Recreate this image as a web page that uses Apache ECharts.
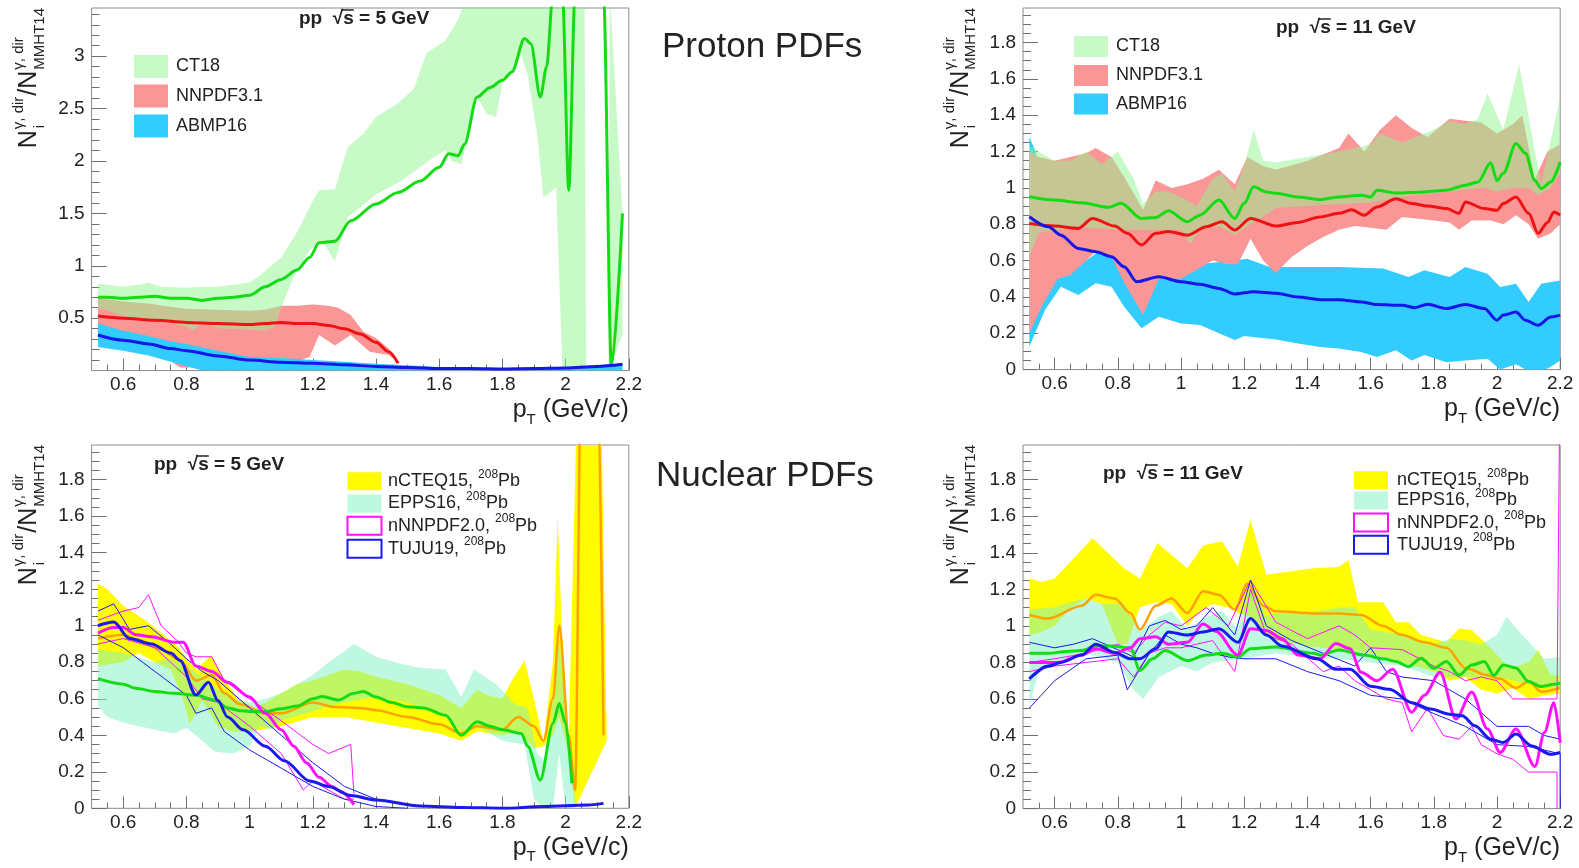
<!DOCTYPE html>
<html>
<head>
<meta charset="utf-8">
<script src="https://cdn.jsdelivr.net/npm/echarts@6/dist/echarts.min.js"></script>
<style>
  html, body { margin: 0; padding: 0; background: #fff; }
  #chart { width: 1579px; height: 868px; }
</style>
</head>
<body>
<div id="chart"></div>
<script>
// ---------------- axis ticks ----------------
const xMajor = [0.6, 0.8, 1, 1.2, 1.4, 1.6, 1.8, 2, 2.2];
const yMajorWide = [0.5, 1, 1.5, 2, 2.5, 3];
const yMajorRatio = [0, 0.2, 0.4, 0.6, 0.8, 1, 1.2, 1.4, 1.6, 1.8];

// ---------------- proton PDFs, sqrt(s) = 5 GeV ----------------
const ct18Mid5 = [[0.52,0.70],[0.55,0.70],[0.6,0.69],[0.65,0.70],[0.7,0.71],[0.75,0.69],[0.8,0.69],[0.85,0.67],[0.9,0.69],[0.95,0.70],[1.0,0.72],[1.05,0.80],[1.1,0.87],[1.15,0.96],[1.19,1.08],[1.22,1.22],[1.27,1.235],[1.32,1.43],[1.4,1.59],[1.47,1.70],[1.54,1.81],[1.6,1.94],[1.63,2.07],[1.66,2.05],[1.68,2.16],[1.72,2.61],[1.76,2.70],[1.8,2.77],[1.83,2.85],[1.87,3.17],[1.89,3.12],[1.92,2.61],[1.94,2.90],[1.96,3.6],[1.99,3.6],[2.01,1.72],[2.03,3.6],[2.12,3.6],[2.145,0.04],[2.18,1.50]];
const ct18Hi5 = [[0.52,0.83],[0.55,0.82],[0.6,0.80],[0.65,0.82],[0.68,0.84],[0.72,0.80],[0.8,0.79],[0.85,0.80],[0.9,0.80],[0.95,0.82],[1.0,0.84],[1.03,0.90],[1.06,0.98],[1.1,1.08],[1.15,1.32],[1.2,1.62],[1.22,1.72],[1.27,1.73],[1.31,2.13],[1.36,2.26],[1.4,2.42],[1.47,2.55],[1.52,2.69],[1.56,3.03],[1.62,3.15],[1.66,3.35],[1.69,3.6],[2.06,3.6],[2.065,0.02],[2.135,0.02],[2.14,3.6],[2.18,1.5]];
const ct18Lo5 = [[0.52,0.60],[0.55,0.57],[0.6,0.52],[0.65,0.49],[0.7,0.47],[0.75,0.45],[0.8,0.42],[0.82,0.38],[0.85,0.45],[0.88,0.42],[0.91,0.40],[0.95,0.40],[1.0,0.39],[1.05,0.38],[1.08,0.42],[1.1,0.60],[1.14,0.90],[1.19,1.15],[1.23,1.24],[1.27,1.04],[1.31,1.46],[1.4,1.68],[1.48,1.81],[1.58,2.03],[1.62,2.10],[1.64,2.00],[1.67,1.97],[1.70,2.35],[1.72,2.61],[1.75,2.45],[1.78,2.42],[1.80,2.74],[1.83,2.83],[1.86,3.01],[1.88,2.82],[1.91,2.26],[1.93,1.65],[1.97,1.75],[1.99,0.0],[2.135,0.0],[2.14,0.02],[2.18,0.35]];
const nnpdfMid5 = [[0.52,0.52],[0.6,0.50],[0.7,0.48],[0.8,0.46],[0.9,0.45],[1.0,0.44],[1.05,0.45],[1.1,0.46],[1.15,0.45],[1.2,0.45],[1.25,0.43],[1.3,0.40],[1.35,0.35],[1.4,0.27],[1.44,0.18],[1.47,0.07]];
const nnpdfHi5 = [[0.52,0.70],[0.55,0.68],[0.6,0.66],[0.68,0.64],[0.75,0.61],[0.8,0.59],[0.9,0.58],[1.0,0.57],[1.05,0.58],[1.1,0.62],[1.15,0.62],[1.2,0.63],[1.25,0.62],[1.28,0.60],[1.32,0.53],[1.36,0.37],[1.4,0.31],[1.44,0.21],[1.47,0.08]];
const nnpdfLo5 = [[0.52,0.42],[0.6,0.35],[0.7,0.20],[0.78,0.03],[0.9,0.03],[0.95,0.08],[1.0,0.12],[1.07,0.12],[1.14,0.08],[1.19,0.13],[1.22,0.34],[1.27,0.24],[1.32,0.34],[1.38,0.18],[1.44,0.15],[1.47,0.08]];
const abmpMid5 = [[0.52,0.34],[0.6,0.29],[0.68,0.255],[0.75,0.21],[0.8,0.19],[0.9,0.14],[1.0,0.10],[1.1,0.08],[1.2,0.07],[1.3,0.055],[1.4,0.04],[1.5,0.03],[1.6,0.02],[1.7,0.02],[1.8,0.015],[1.9,0.02],[2.0,0.025],[2.1,0.04],[2.18,0.06]];
const abmpHi5 = [[0.52,0.45],[0.6,0.38],[0.68,0.33],[0.75,0.28],[0.8,0.255],[0.9,0.19],[1.0,0.13],[1.1,0.12],[1.2,0.10],[1.3,0.085],[1.4,0.065],[1.5,0.05],[1.6,0.035],[1.7,0.03],[1.8,0.025],[1.9,0.03],[2.0,0.035],[2.1,0.05],[2.18,0.07]];
const abmpLo5 = [[0.52,0.225],[0.6,0.19],[0.68,0.145],[0.79,0.05],[0.85,0.0],[2.18,0.0]];

// ---------------- proton PDFs, sqrt(s) = 11 GeV ----------------
const ct18Mid11 = [[0.52,0.951],[0.6,0.933],[0.685,0.918],[0.77,0.893],[0.81,0.915],[0.875,0.832],[0.92,0.837],[0.96,0.874],[1.02,0.814],[1.06,0.85],[1.12,0.933],[1.17,0.832],[1.2,0.915],[1.23,1.006],[1.27,0.978],[1.3,0.97],[1.37,0.95],[1.44,0.936],[1.5,0.95],[1.57,0.96],[1.6,0.95],[1.62,0.987],[1.68,0.972],[1.77,0.978],[1.84,0.987],[1.9,1.015],[1.94,1.033],[1.98,1.138],[2.0,1.04],[2.02,1.08],[2.06,1.244],[2.09,1.19],[2.12,1.04],[2.14,0.996],[2.17,1.033],[2.2,1.143]];
const ct18Hi11 = [[0.52,1.23],[0.55,1.2],[0.6,1.15],[0.65,1.15],[0.7,1.2],[0.75,1.13],[0.8,1.2],[0.85,1.05],[0.88,0.91],[0.92,0.98],[0.96,0.98],[1.0,0.95],[1.05,0.9],[1.1,1.05],[1.13,1.08],[1.17,0.98],[1.2,1.12],[1.23,1.32],[1.26,1.15],[1.3,1.14],[1.4,1.17],[1.5,1.2],[1.55,1.22],[1.6,1.24],[1.63,1.3],[1.7,1.25],[1.8,1.32],[1.85,1.37],[1.9,1.35],[1.94,1.38],[1.97,1.52],[2.02,1.32],[2.07,1.68],[2.12,1.2],[2.14,1.02],[2.2,1.5]];
const ct18Lo11 = [[0.52,0.62],[0.55,0.75],[0.6,0.77],[0.7,0.78],[0.8,0.77],[0.9,0.77],[1.0,0.77],[1.03,0.69],[1.06,0.77],[1.12,0.79],[1.17,0.74],[1.21,0.79],[1.25,0.83],[1.3,0.89],[1.4,0.9],[1.5,0.91],[1.6,0.92],[1.7,0.95],[1.8,0.97],[1.9,0.99],[1.96,1.0],[2.0,0.98],[2.05,1.0],[2.1,1.0],[2.13,0.96],[2.17,1.0],[2.2,1.08]];
const nnpdfMid11 = [[0.52,0.804],[0.6,0.79],[0.675,0.777],[0.72,0.832],[0.79,0.79],[0.83,0.75],[0.875,0.686],[0.92,0.75],[0.96,0.76],[1.02,0.74],[1.08,0.786],[1.13,0.814],[1.17,0.768],[1.22,0.832],[1.3,0.79],[1.37,0.81],[1.44,0.84],[1.5,0.86],[1.54,0.88],[1.58,0.85],[1.62,0.895],[1.68,0.94],[1.73,0.914],[1.78,0.9],[1.84,0.886],[1.88,0.86],[1.9,0.923],[1.96,0.886],[2.0,0.877],[2.02,0.914],[2.06,0.95],[2.1,0.86],[2.13,0.75],[2.16,0.81],[2.18,0.868],[2.2,0.85]];
const nnpdfHi11 = [[0.52,1.2],[0.55,1.17],[0.6,1.15],[0.7,1.19],[0.73,1.22],[0.78,1.17],[0.82,1.06],[0.88,0.88],[0.92,1.04],[0.97,1.0],[1.02,1.02],[1.07,1.05],[1.12,1.1],[1.17,1.02],[1.21,1.17],[1.26,1.12],[1.3,1.1],[1.4,1.15],[1.5,1.22],[1.53,1.3],[1.58,1.2],[1.63,1.32],[1.68,1.4],[1.73,1.33],[1.78,1.28],[1.85,1.38],[1.9,1.37],[1.95,1.36],[2.0,1.3],[2.05,1.35],[2.08,1.4],[2.12,1.05],[2.16,1.2],[2.2,1.24]];
const nnpdfLo11 = [[0.52,0.2],[0.56,0.35],[0.61,0.5],[0.65,0.52],[0.7,0.6],[0.73,0.65],[0.78,0.62],[0.82,0.48],[0.88,0.3],[0.93,0.5],[1.0,0.5],[1.05,0.55],[1.1,0.6],[1.15,0.58],[1.18,0.58],[1.22,0.72],[1.26,0.6],[1.3,0.53],[1.35,0.62],[1.4,0.68],[1.45,0.73],[1.5,0.77],[1.55,0.79],[1.6,0.78],[1.65,0.77],[1.7,0.84],[1.75,0.83],[1.8,0.82],[1.85,0.81],[1.88,0.77],[1.92,0.82],[1.98,0.82],[2.02,0.8],[2.06,0.85],[2.1,0.8],[2.13,0.72],[2.17,0.75],[2.2,0.8]];
const abmpMid11 = [[0.52,0.841],[0.58,0.786],[0.62,0.74],[0.675,0.667],[0.73,0.649],[0.78,0.621],[0.82,0.566],[0.86,0.484],[0.93,0.511],[1.0,0.484],[1.06,0.47],[1.12,0.447],[1.17,0.416],[1.23,0.429],[1.3,0.42],[1.37,0.4],[1.44,0.385],[1.5,0.385],[1.57,0.372],[1.62,0.358],[1.7,0.354],[1.74,0.341],[1.78,0.36],[1.84,0.336],[1.9,0.358],[1.96,0.336],[2.0,0.272],[2.02,0.3],[2.06,0.317],[2.09,0.272],[2.13,0.244],[2.17,0.29],[2.2,0.3]];
const abmpHi11 = [[0.52,1.28],[0.54,1.2],[0.57,0.6],[0.6,0.58],[0.7,0.6],[0.74,0.65],[0.8,0.62],[0.85,0.58],[0.9,0.56],[0.95,0.56],[1.0,0.57],[1.05,0.58],[1.13,0.593],[1.21,0.61],[1.28,0.565],[1.4,0.565],[1.5,0.565],[1.64,0.556],[1.72,0.51],[1.77,0.547],[1.85,0.51],[1.9,0.565],[1.97,0.528],[2.01,0.455],[2.06,0.473],[2.1,0.372],[2.14,0.473],[2.2,0.49]];
const abmpLo11 = [[0.52,0.126],[0.57,0.33],[0.62,0.456],[0.675,0.41],[0.73,0.475],[0.78,0.456],[0.82,0.346],[0.875,0.227],[0.93,0.291],[1.0,0.254],[1.06,0.245],[1.12,0.2],[1.17,0.163],[1.2,0.185],[1.3,0.165],[1.37,0.143],[1.44,0.125],[1.5,0.116],[1.57,0.097],[1.62,0.07],[1.68,0.106],[1.73,0.05],[1.77,0.08],[1.84,0.04],[1.9,0.05],[1.97,0.06],[2.01,0.0],[2.06,0.03],[2.09,0.0],[2.13,-0.02],[2.17,0.015],[2.2,0.05]];

// ---------------- nuclear PDFs (208Pb), sqrt(s) = 5 GeV ----------------
const ncteqMid5 = [[0.52,0.93],[0.6,0.95],[0.65,0.92],[0.72,0.87],[0.78,0.81],[0.83,0.70],[0.88,0.73],[0.92,0.63],[0.97,0.57],[1.05,0.52],[1.1,0.52],[1.2,0.58],[1.27,0.555],[1.35,0.55],[1.4,0.537],[1.5,0.5],[1.6,0.46],[1.67,0.41],[1.72,0.45],[1.8,0.43],[1.85,0.5],[1.9,0.45],[1.93,0.37],[1.96,0.6],[1.98,1.0],[2.01,0.4],[2.03,0.1],[2.05,2.5],[2.1,2.5],[2.12,0.4]];
const ncteqHi5 = [[0.52,1.23],[0.55,1.2],[0.6,1.11],[0.67,1.03],[0.72,0.96],[0.77,0.89],[0.83,0.76],[0.88,0.84],[0.92,0.70],[0.97,0.59],[1.02,0.55],[1.07,0.6],[1.15,0.68],[1.2,0.70],[1.3,0.76],[1.35,0.75],[1.4,0.72],[1.5,0.68],[1.6,0.62],[1.67,0.55],[1.72,0.65],[1.75,0.62],[1.8,0.6],[1.83,0.7],[1.87,0.81],[1.9,0.6],[1.93,0.36],[1.96,0.8],[1.975,1.59],[1.99,0.9],[2.01,0.4],[2.04,2.5],[2.11,2.5],[2.13,0.4]];
const ncteqLo5 = [[0.52,0.78],[0.6,0.8],[0.65,0.85],[0.7,0.8],[0.75,0.76],[0.79,0.59],[0.81,0.46],[0.85,0.59],[0.9,0.45],[0.95,0.42],[1.0,0.42],[1.1,0.45],[1.2,0.5],[1.3,0.5],[1.4,0.47],[1.5,0.44],[1.6,0.41],[1.67,0.37],[1.72,0.42],[1.8,0.4],[1.85,0.42],[1.9,0.33],[1.93,0.34],[1.96,0.4],[1.98,0.5],[2.01,0.3],[2.03,0.0],[2.13,0.37]];
const eppsMid5 = [[0.52,0.71],[0.6,0.68],[0.64,0.657],[0.7,0.64],[0.76,0.63],[0.83,0.62],[0.89,0.593],[0.93,0.55],[0.97,0.535],[1.0,0.53],[1.05,0.53],[1.1,0.545],[1.15,0.56],[1.2,0.6],[1.23,0.612],[1.28,0.593],[1.33,0.63],[1.36,0.64],[1.4,0.61],[1.45,0.58],[1.5,0.556],[1.55,0.55],[1.62,0.51],[1.67,0.40],[1.72,0.474],[1.76,0.45],[1.8,0.43],[1.86,0.41],[1.88,0.34],[1.92,0.155],[1.96,0.465],[1.98,0.574],[2.0,0.465],[2.02,0.137]];
const eppsHi5 = [[0.52,0.87],[0.6,0.85],[0.7,0.8],[0.75,0.82],[0.8,0.78],[0.85,0.72],[0.9,0.65],[0.95,0.6],[1.0,0.58],[1.05,0.6],[1.1,0.63],[1.15,0.68],[1.2,0.73],[1.25,0.8],[1.3,0.86],[1.33,0.9],[1.4,0.83],[1.48,0.79],[1.54,0.77],[1.62,0.76],[1.67,0.61],[1.71,0.76],[1.78,0.68],[1.84,0.57],[1.88,0.55],[1.91,0.3],[1.94,0.25],[1.97,0.8],[1.98,0.93],[2.0,0.5],[2.03,0.2]];
const eppsLo5 = [[0.52,0.56],[0.55,0.5],[0.6,0.47],[0.65,0.45],[0.7,0.43],[0.76,0.41],[0.8,0.44],[0.83,0.4],[0.89,0.31],[0.95,0.3],[1.0,0.34],[1.03,0.45],[1.07,0.43],[1.1,0.48],[1.18,0.52],[1.25,0.56],[1.3,0.58],[1.4,0.61],[1.5,0.58],[1.55,0.55],[1.62,0.5],[1.67,0.42],[1.72,0.45],[1.8,0.37],[1.87,0.35],[1.9,0.05],[1.93,0.0],[1.96,0.0],[1.98,0.3],[2.0,0.0],[2.03,0.0]];
const nnnpdfMid5 = [[0.52,0.96],[0.57,0.99],[0.6,0.99],[0.64,0.95],[0.69,0.94],[0.76,0.91],[0.79,0.91],[0.83,0.78],[0.88,0.75],[0.93,0.69],[1.0,0.61],[1.05,0.52],[1.1,0.43],[1.14,0.34],[1.18,0.25],[1.22,0.17],[1.26,0.12],[1.29,0.09],[1.33,0.02]];
const nnnpdfHi5 = [[0.52,1.03],[0.6,1.08],[0.65,1.1],[0.68,1.17],[0.72,1.0],[0.77,0.92],[0.8,0.85],[0.83,0.83],[0.88,0.83],[0.92,0.7],[1.0,0.6],[1.1,0.48],[1.2,0.35],[1.25,0.3],[1.32,0.35],[1.33,0.08]];
const nnnpdfLo5 = [[0.52,0.9],[0.6,0.93],[0.7,0.88],[0.8,0.72],[0.85,0.6],[0.9,0.58],[1.0,0.45],[1.1,0.3],[1.17,0.1],[1.2,0.15],[1.25,0.1],[1.3,0.05],[1.33,0.05]];
const tujuMid5 = [[0.52,1.0],[0.57,1.02],[0.62,0.93],[0.69,0.9],[0.75,0.85],[0.78,0.81],[0.83,0.62],[0.87,0.69],[0.9,0.59],[0.93,0.50],[0.98,0.43],[1.05,0.34],[1.11,0.26],[1.19,0.15],[1.25,0.12],[1.32,0.07],[1.4,0.045],[1.54,0.013],[1.67,0.005],[1.8,0.0],[1.93,0.01],[2.07,0.018],[2.12,0.027]];
const tujuHi5 = [[0.52,1.08],[0.57,1.12],[0.62,0.98],[0.68,1.0],[0.75,0.9],[0.8,0.82],[0.85,0.75],[0.9,0.7],[1.0,0.55],[1.1,0.4],[1.2,0.25],[1.3,0.12],[1.4,0.05],[1.5,0.02]];
const tujuLo5 = [[0.52,0.95],[0.6,0.88],[0.7,0.75],[0.8,0.62],[0.83,0.52],[0.88,0.55],[0.92,0.42],[1.0,0.32],[1.1,0.22],[1.2,0.12],[1.3,0.05],[1.4,0.01],[1.5,0.0]];

// ---------------- nuclear PDFs (208Pb), sqrt(s) = 11 GeV ----------------
const ncteqMid11 = [[0.52,1.06],[0.58,1.04],[0.685,1.11],[0.73,1.17],[0.79,1.15],[0.84,1.07],[0.87,0.98],[0.92,1.11],[0.97,1.15],[1.02,1.07],[1.07,1.19],[1.12,1.17],[1.17,1.09],[1.21,1.23],[1.26,1.11],[1.3,1.08],[1.42,1.068],[1.5,1.068],[1.57,1.06],[1.64,1.0],[1.7,0.95],[1.77,0.91],[1.84,0.88],[1.9,0.77],[1.97,0.73],[2.01,0.71],[2.06,0.66],[2.1,0.695],[2.14,0.64],[2.2,0.66]];
const ncteqHi11 = [[0.52,1.26],[0.56,1.24],[0.6,1.26],[0.72,1.48],[0.82,1.316],[0.87,1.26],[0.925,1.454],[1.02,1.316],[1.07,1.44],[1.13,1.463],[1.18,1.325],[1.22,1.58],[1.27,1.28],[1.42,1.316],[1.5,1.322],[1.53,1.36],[1.56,1.13],[1.64,1.13],[1.68,1.02],[1.72,1.02],[1.76,0.95],[1.84,0.91],[1.88,0.986],[1.92,0.977],[1.97,0.895],[2.04,0.768],[2.1,0.8],[2.13,0.87],[2.17,0.73],[2.2,0.73]];
const ncteqLo11 = [[0.52,0.95],[0.55,0.96],[0.6,1.0],[0.65,1.1],[0.7,1.15],[0.75,1.12],[0.8,0.9],[0.83,0.9],[0.87,1.1],[0.92,1.13],[0.97,1.12],[1.02,1.0],[1.06,1.08],[1.1,1.12],[1.15,1.1],[1.18,1.07],[1.22,1.05],[1.27,0.95],[1.3,0.92],[1.4,0.89],[1.5,0.87],[1.6,0.85],[1.7,0.8],[1.8,0.75],[1.85,0.7],[1.9,0.72],[1.95,0.65],[2.0,0.63],[2.05,0.66],[2.1,0.6],[2.15,0.62],[2.2,0.63]];
const eppsMid11 = [[0.52,0.85],[0.58,0.85],[0.64,0.86],[0.685,0.865],[0.73,0.89],[0.78,0.89],[0.84,0.88],[0.87,0.756],[0.91,0.82],[0.95,0.865],[1.02,0.81],[1.08,0.84],[1.13,0.85],[1.18,0.83],[1.22,0.875],[1.3,0.885],[1.42,0.85],[1.44,0.84],[1.5,0.868],[1.58,0.84],[1.64,0.82],[1.68,0.805],[1.72,0.777],[1.76,0.823],[1.8,0.768],[1.84,0.805],[1.88,0.73],[1.92,0.786],[1.96,0.805],[1.99,0.73],[2.02,0.786],[2.06,0.77],[2.1,0.695],[2.14,0.668],[2.18,0.68],[2.2,0.686]];
const eppsHi11 = [[0.52,1.09],[0.6,1.1],[0.65,1.13],[0.7,1.15],[0.75,1.12],[0.82,1.12],[0.87,0.97],[0.93,1.05],[0.97,1.08],[1.02,0.98],[1.08,1.05],[1.13,1.08],[1.18,0.98],[1.22,1.24],[1.27,1.05],[1.3,1.07],[1.4,1.07],[1.5,1.1],[1.55,1.1],[1.6,0.98],[1.7,0.95],[1.8,0.9],[1.85,0.93],[1.9,0.92],[1.95,0.9],[2.0,0.95],[2.03,1.05],[2.08,0.95],[2.15,0.82],[2.2,0.83]];
const eppsLo11 = [[0.52,0.56],[0.55,0.75],[0.6,0.8],[0.7,0.85],[0.8,0.8],[0.85,0.65],[0.88,0.6],[0.93,0.72],[1.0,0.78],[1.05,0.75],[1.1,0.8],[1.2,0.82],[1.3,0.85],[1.4,0.83],[1.5,0.82],[1.6,0.8],[1.7,0.78],[1.8,0.72],[1.9,0.72],[2.0,0.72],[2.1,0.68],[2.2,0.66]];
const nnnpdfMid11 = [[0.52,0.8],[0.61,0.8],[0.685,0.84],[0.73,0.875],[0.79,0.85],[0.84,0.88],[0.87,0.93],[0.92,0.94],[0.96,0.9],[1.02,0.91],[1.07,1.01],[1.11,0.97],[1.18,0.84],[1.22,0.985],[1.27,0.975],[1.32,0.93],[1.37,0.84],[1.44,0.82],[1.49,0.903],[1.535,0.875],[1.57,0.746],[1.62,0.70],[1.67,0.763],[1.73,0.527],[1.77,0.62],[1.82,0.746],[1.87,0.49],[1.92,0.638],[1.97,0.435],[2.01,0.307],[2.06,0.435],[2.12,0.23],[2.15,0.417],[2.18,0.58],[2.2,0.36]];
const nnnpdfHi11 = [[0.52,0.8],[0.6,0.82],[0.7,0.85],[0.8,0.9],[0.85,0.85],[0.9,0.95],[0.95,1.02],[1.0,1.0],[1.08,1.1],[1.15,1.0],[1.22,1.25],[1.3,1.02],[1.4,0.93],[1.5,1.0],[1.55,0.95],[1.6,0.88],[1.7,0.87],[1.8,0.78],[1.85,0.75],[1.9,0.7],[1.95,0.72],[2.0,0.7],[2.05,0.6],[2.1,0.6],[2.15,0.6],[2.19,0.6],[2.2,2.5]];
const nnnpdfLo11 = [[0.52,0.75],[0.6,0.78],[0.7,0.8],[0.8,0.82],[0.85,0.72],[0.9,0.85],[0.95,0.88],[1.0,0.88],[1.05,0.9],[1.1,0.92],[1.17,0.75],[1.22,1.2],[1.27,0.95],[1.35,0.9],[1.45,0.75],[1.5,0.78],[1.55,0.7],[1.6,0.65],[1.65,0.6],[1.7,0.58],[1.73,0.42],[1.78,0.55],[1.83,0.4],[1.88,0.38],[1.92,0.45],[1.95,0.35],[2.0,0.3],[2.05,0.27],[2.1,0.2],[2.15,0.2],[2.19,0.2],[2.19,0.0]];
const tujuMid11 = [[0.52,0.71],[0.58,0.78],[0.62,0.8],[0.685,0.84],[0.73,0.9],[0.79,0.855],[0.84,0.82],[0.87,0.82],[0.92,0.875],[0.96,0.967],[1.02,0.95],[1.07,0.967],[1.12,0.985],[1.18,0.91],[1.22,1.04],[1.27,0.95],[1.32,0.89],[1.43,0.82],[1.49,0.763],[1.535,0.763],[1.6,0.67],[1.66,0.653],[1.73,0.58],[1.79,0.545],[1.85,0.517],[1.89,0.508],[1.93,0.453],[1.98,0.38],[2.02,0.362],[2.06,0.408],[2.11,0.343],[2.17,0.297],[2.2,0.307]];
const tujuHi11 = [[0.52,0.91],[0.6,0.88],[0.66,0.9],[0.72,0.93],[0.8,0.87],[0.85,0.83],[0.9,1.0],[0.95,1.03],[1.0,0.98],[1.05,1.0],[1.1,1.1],[1.17,0.95],[1.22,1.25],[1.27,1.0],[1.35,0.92],[1.45,0.85],[1.55,0.78],[1.6,0.88],[1.65,0.75],[1.7,0.72],[1.8,0.7],[1.9,0.6],[2.0,0.45],[2.1,0.45],[2.15,0.4],[2.2,0.38]];
const tujuLo11 = [[0.52,0.55],[0.6,0.7],[0.7,0.82],[0.8,0.84],[0.83,0.65],[0.9,0.85],[0.95,0.95],[1.0,0.9],[1.05,0.88],[1.1,0.85],[1.15,0.83],[1.2,0.82],[1.3,0.82],[1.4,0.75],[1.5,0.7],[1.6,0.62],[1.7,0.6],[1.8,0.52],[1.9,0.45],[2.0,0.35],[2.1,0.34],[2.2,0.3],[2.2,0.0]];

// ---------------- styling ----------------
const FONT = '"Liberation Sans", Arial, Helvetica, sans-serif';
const TEXT = '#222';
const C = {
  ct18Band: 'rgba(145,245,145,0.5)', ct18Line: '#14dc14',
  nnpdfBand: '#fa9696', nnpdfLine: '#f01212',
  abmpBand: '#33ccff', abmpLine: '#1616e8',
  ncteqBand: '#fffb00', ncteqLine: '#ffa200',
  eppsBand: 'rgba(127,241,196,0.51)', eppsLine: '#14dc14',
  nnnpdf: '#ff10ff', tuju: '#1a1aee'
};

// panel frames: [left, top, width, height]
const frames = [
  [91.6, 8, 537.2, 362.6],
  [1023, 8, 537.2, 361.6],
  [91.6, 445, 537.2, 363.3],
  [1023, 445, 537.2, 363.6]
];
const yMax = [3.46, 1.99, 1.99, 1.99];
const yMajors = [yMajorWide, yMajorRatio, yMajorRatio, yMajorRatio];

function steps(a, b, s) { const out = []; for (let i = 0; a + i * s <= b + 1e-9; i++) out.push(+(a + i * s).toFixed(3)); return out; }
function without(list, majors) { return list.filter(v => !majors.some(m => Math.abs(m - v) < 1e-6)); }
const xMinor = without(steps(0.55, 2.15, 0.05), xMajor);
const yMinors = [without(steps(0.1, 3.4, 0.1), yMajorWide), without(steps(0.05, 1.95, 0.05), yMajorRatio), without(steps(0.05, 1.95, 0.05), yMajorRatio), without(steps(0.05, 1.95, 0.05), yMajorRatio)];
const fmt = v => String(Math.round(v * 100) / 100);

const grids = [], xAxes = [], yAxes = [];
frames.forEach((f, g) => {
  grids.push({ left: f[0], top: f[1], width: f[2], height: f[3], show: true, borderColor: '#8c8c8c', borderWidth: 1, backgroundColor: 'rgba(0,0,0,0)', containLabel: false, outerBoundsMode: 'none' });
  const tickStyle = { color: '#707070', width: 1 };
  xAxes.push({ type: 'value', gridIndex: g, min: 0.5, max: 2.2, position: 'bottom',
    axisLine: { show: false }, splitLine: { show: false },
    axisTick: { show: true, inside: true, length: 12, customValues: xMajor, lineStyle: tickStyle },
    axisLabel: { show: true, customValues: xMajor, formatter: fmt, fontSize: 19, fontFamily: FONT, color: TEXT, margin: 5 } });
  xAxes.push({ type: 'value', gridIndex: g, min: 0.5, max: 2.2, position: 'bottom',
    axisLine: { show: false }, splitLine: { show: false },
    axisTick: { show: true, inside: true, length: 6, customValues: xMinor, lineStyle: tickStyle },
    axisLabel: { show: false } });
  yAxes.push({ type: 'value', gridIndex: g, min: 0, max: yMax[g], position: 'left',
    axisLine: { show: false }, splitLine: { show: false },
    axisTick: { show: true, inside: true, length: 15, customValues: yMajors[g], lineStyle: tickStyle },
    axisLabel: { show: true, customValues: yMajors[g], formatter: fmt, fontSize: 19, fontFamily: FONT, color: TEXT, margin: 7 } });
  yAxes.push({ type: 'value', gridIndex: g, min: 0, max: yMax[g], position: 'left',
    axisLine: { show: false }, splitLine: { show: false },
    axisTick: { show: true, inside: true, length: 8, customValues: yMinors[g], lineStyle: tickStyle },
    axisLabel: { show: false } });
});

let zc = 2;
function band(g, hi, lo, fill) {
  const ring = hi.concat(lo.slice().reverse());
  return { type: 'custom', xAxisIndex: 2 * g, yAxisIndex: 2 * g, clip: true, silent: true, z: zc++,
    data: [hi[0]],
    renderItem: (params, api) => ({ type: 'polygon', shape: { points: ring.map(p => api.coord(p)) }, style: { fill: fill, stroke: null } }) };
}
function curve(g, pts, color, width, smooth) {
  return { type: 'line', xAxisIndex: 2 * g, yAxisIndex: 2 * g, data: pts, symbol: 'none', showSymbol: false,
    smooth: smooth ? 0.3 : false, smoothMonotone: 'x', clip: true, silent: true, z: zc++,
    lineStyle: { color: color, width: width }, emphasis: { disabled: true } };
}

const series = [
  // proton, 5 GeV
  band(0, nnpdfHi5, nnpdfLo5, C.nnpdfBand),
  band(0, ct18Hi5, ct18Lo5, C.ct18Band),
  band(0, abmpHi5, abmpLo5, C.abmpBand),
  curve(0, nnpdfMid5, C.nnpdfLine, 3, true),
  curve(0, ct18Mid5, C.ct18Line, 3, true),
  curve(0, abmpMid5, C.abmpLine, 3, true),
  // proton, 11 GeV
  band(1, abmpHi11, abmpLo11, C.abmpBand),
  band(1, nnpdfHi11, nnpdfLo11, C.nnpdfBand),
  band(1, ct18Hi11, ct18Lo11, C.ct18Band),
  curve(1, nnpdfMid11, C.nnpdfLine, 3, true),
  curve(1, ct18Mid11, C.ct18Line, 3, true),
  curve(1, abmpMid11, C.abmpLine, 3, true),
  // nuclear, 5 GeV
  band(2, ncteqHi5, ncteqLo5, C.ncteqBand),
  band(2, eppsHi5, eppsLo5, C.eppsBand),
  curve(2, ncteqMid5, C.ncteqLine, 2.5, true),
  curve(2, nnnpdfHi5, C.nnnpdf, 1, false),
  curve(2, nnnpdfLo5, C.nnnpdf, 1, false),
  curve(2, tujuHi5, C.tuju, 1, false),
  curve(2, tujuLo5, C.tuju, 1, false),
  curve(2, eppsMid5, C.eppsLine, 3, true),
  curve(2, nnnpdfMid5, C.nnnpdf, 3, true),
  curve(2, tujuMid5, C.tuju, 3, true),
  // nuclear, 11 GeV
  band(3, ncteqHi11, ncteqLo11, C.ncteqBand),
  band(3, eppsHi11, eppsLo11, C.eppsBand),
  curve(3, ncteqMid11, C.ncteqLine, 2.5, true),
  curve(3, nnnpdfHi11, C.nnnpdf, 1, false),
  curve(3, nnnpdfLo11, C.nnnpdf, 1, false),
  curve(3, tujuHi11, C.tuju, 1, false),
  curve(3, tujuLo11, C.tuju, 1, false),
  curve(3, eppsMid11, C.eppsLine, 3, true),
  curve(3, nnnpdfMid11, C.nnnpdf, 3, true),
  curve(3, tujuMid11, C.tuju, 3, true)
];

// ---------------- text and legends ----------------
const meas = document.createElement('canvas').getContext('2d');
function tw(s, size, weight) { meas.font = (weight || 'normal') + ' ' + size + 'px ' + FONT; return meas.measureText(s).width; }
function T(x, y, s, size, o) {
  o = o || {};
  return { type: 'text', x: x, y: y, z: 100, silent: true,
    style: { text: s, fontSize: size, fontFamily: FONT, fontWeight: o.weight || 'normal', fill: o.color || TEXT,
      align: o.align || 'left', verticalAlign: 'middle', textAlign: o.align || 'left', textVerticalAlign: 'middle' } };
}
function box(x, yc, w, h, fill, stroke) {
  return { type: 'rect', z: 100, silent: true, shape: { x: x, y: yc - h / 2, width: w, height: h },
    style: { fill: fill, stroke: stroke || null, lineWidth: stroke ? 2 : 0 } };
}
function energyLabel(x, yc, e) {
  const size = 19, head = 'pp  \u221A';
  const s = head + 's = ' + e + ' GeV';
  const a = x + tw(head, size, 'bold') - 2, b = x + tw(head + 's', size, 'bold');
  return [T(x, yc, s, size, { weight: 'bold' }),
    { type: 'line', z: 100, silent: true, shape: { x1: a, y1: yc - 9, x2: b, y2: yc - 9 }, style: { stroke: TEXT, lineWidth: 1.5 } }];
}
function yTitle(bx, topY) {
  const big = 25, small = 15, parts = [];
  let x = 0;
  parts.push([x, 0, 'N', big]); x += tw('N', big) + 1;
  parts.push([x, -11, '\u03B3, dir', small]); parts.push([x + 1, 10, 'i', small]);
  x += tw('\u03B3, dir', small) + 1;
  parts.push([x, 0, '/N', big]); x += tw('/N', big) + 1;
  parts.push([x, -11, '\u03B3, dir', small]); parts.push([x, 10, 'MMHT14', small]);
  x += Math.max(tw('\u03B3, dir', small), tw('MMHT14', small));
  const L = x;
  return { type: 'group', x: bx, y: topY, rotation: Math.PI / 2, children: parts.map(p => T(p[0] - L, p[1], p[2], p[3])) };
}
function xTitle(right, yc) {
  const big = 25, small = 15;
  const w1 = tw('p', big), w2 = tw('T', small), w3 = tw(' (GeV/c)', big);
  const x0 = right - (w1 + w2 + w3);
  return [T(x0, yc, 'p', big), T(x0 + w1, yc + 9, 'T', small), T(x0 + w1 + w2, yc, ' (GeV/c)', big)];
}
function pbLabel(x, yc, name) {
  const size = 18, sup = 12;
  const w = tw(name + ', ', size), w2 = tw('208', sup);
  return [T(x, yc, name + ', ', size), T(x + w, yc - 7, '208', sup), T(x + w + w2, yc, 'Pb', size)];
}

const graphics = [];
// y and x axis titles
frames.forEach(f => {
  graphics.push(yTitle(f[0] - 62, f[1]));
  xTitle(f[0] + f[2], f[1] + f[3] + 40).forEach(e => graphics.push(e));
});
// energy labels
[[299, 19, 5], [1276, 28, 11], [154, 465, 5], [1103, 474, 11]].forEach(a => energyLabel(a[0], a[1], a[2]).forEach(e => graphics.push(e)));
// section labels
graphics.push(T(662, 47, 'Proton PDFs', 35));
graphics.push(T(656, 476, 'Nuclear PDFs', 35));
// proton legends
[[134, [66.5, 96, 126], 34, 23, 176], [1074, [46.5, 75.5, 104], 34, 21, 1116]].forEach(L => {
  const names = ['CT18', 'NNPDF3.1', 'ABMP16'], fills = [C.ct18Band, C.nnpdfBand, C.abmpBand];
  L[1].forEach((yc, i) => { graphics.push(box(L[0], yc, L[2], L[3], fills[i])); graphics.push(T(L[4], yc, names[i], 18)); });
});
// nuclear legends
[[347.5, [481.3, 503.5, 525.7, 548.8], 388], [1354, [480.3, 500.5, 522.6, 544.8], 1397]].forEach(L => {
  const names = ['nCTEQ15', 'EPPS16', 'nNNPDF2.0', 'TUJU19'];
  const fills = [C.ncteqBand, C.eppsBand, '#ffffff', '#ffffff'];
  const strokes = [null, null, C.nnnpdf, C.tuju];
  L[1].forEach((yc, i) => {
    graphics.push(box(L[0], yc, 34, 18, fills[i], strokes[i]));
    pbLabel(L[2], yc, names[i]).forEach(e => graphics.push(e));
  });
});

const chart = echarts.init(document.getElementById('chart'), null, { renderer: 'canvas' });
chart.setOption({
  animation: false,
  backgroundColor: '#ffffff',
  grid: grids,
  xAxis: xAxes,
  yAxis: yAxes,
  series: series,
  graphic: graphics
});
</script>
</body>
</html>
